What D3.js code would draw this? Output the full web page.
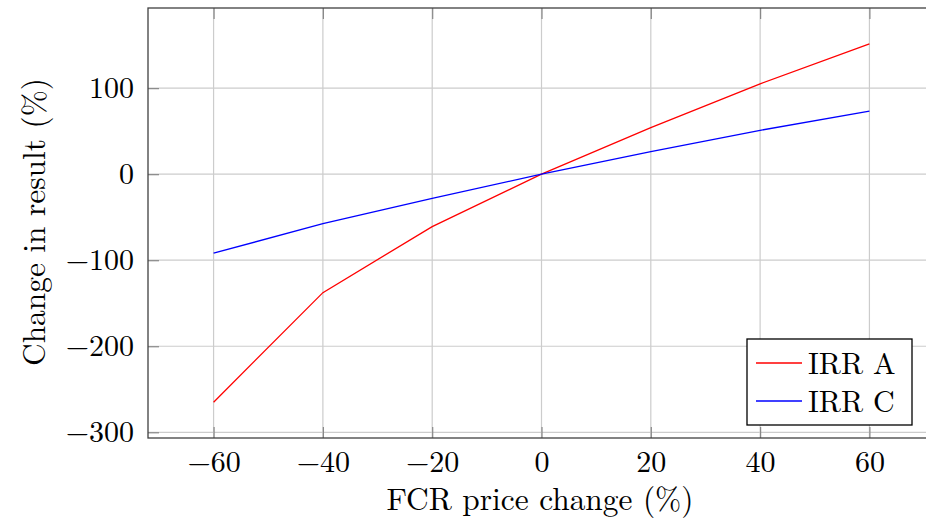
<!DOCTYPE html>
<html>
<head>
<meta charset="utf-8">
<script src="https://cdn.jsdelivr.net/npm/d3@7"></script>
<style>
  body { margin: 0; background: #fff; overflow: hidden; }
  text { font-family: "Latin Modern Roman", "Liberation Serif", "DejaVu Serif", serif; }
</style>
</head>
<body>
<div id="chart"></div>
<script>
// data
const priceChange = [-60, -40, -20, 0, 20, 40, 60];
const irrA = [-265, -137.7, -60.9, 0, 54.2, 105, 151.5];
const irrC = [-91.9, -57.4, -28, 0, 26.3, 51, 73.3];
const xTicks = [-60, -40, -20, 0, 20, 40, 60];
const yTicks = [-300, -200, -100, 0, 100];
const seriesNames = ["IRR A", "IRR C"];
const seriesColors = ["#ff0000", "#0000ff"];

const width = 926;
const height = 526;
const margin = { left: 148, top: 8 };
const plotW = 787;   // frame runs past the window edge like the reference
const plotH = 430;

const svg = d3.select("#chart")
    .append("svg")
    .attr("width", width)
    .attr("height", height);

// pgfplots-style 10% enlargement of limits
const allY = irrA.concat(irrC);
const yMin = d3.min(allY), yMax = d3.max(allY);
const yPad = (yMax - yMin) * 0.1;

const xScale = d3.scaleLinear().domain([-72, 72]).range([0, plotW]);
const yScale = d3.scaleLinear().domain([yMin - yPad, yMax + yPad]).range([plotH, 0]);

const g = svg.append("g")
    .attr("transform", `translate(${margin.left},${margin.top})`);

// grid lines
g.selectAll(".vgrid")
    .data(xTicks)
    .enter().append("line")
    .attr("x1", d => xScale(d)).attr("x2", d => xScale(d))
    .attr("y1", 0).attr("y2", plotH)
    .attr("stroke", "#cccccc").attr("stroke-width", 1.2);

g.selectAll(".hgrid")
    .data(yTicks)
    .enter().append("line")
    .attr("x1", 0).attr("x2", plotW)
    .attr("y1", d => yScale(d)).attr("y2", d => yScale(d))
    .attr("stroke", "#cccccc").attr("stroke-width", 1.2);

// axes with inward ticks
const tickFmt = d => d < 0 ? "\u2212" + Math.abs(d) : String(d);

const xAxis = g.append("g")
    .attr("transform", `translate(0,${plotH})`)
    .call(d3.axisBottom(xScale).tickValues(xTicks).tickSizeInner(-11).tickSizeOuter(0).tickPadding(17).tickFormat(tickFmt));
g.append("g")
    .call(d3.axisTop(xScale).tickValues(xTicks).tickSizeInner(-11).tickSizeOuter(0).tickFormat(""));
const yAxis = g.append("g")
    .call(d3.axisLeft(yScale).tickValues(yTicks).tickSizeInner(-11).tickSizeOuter(0).tickPadding(14).tickFormat(tickFmt));

svg.selectAll(".domain").remove();
svg.selectAll(".tick line").attr("stroke", "#888888").attr("stroke-width", 1.2);
svg.selectAll(".tick text").attr("font-size", "30px").attr("fill", "#000");
xAxis.selectAll(".tick text").attr("dy", "0.55em");

// frame
g.append("rect")
    .attr("width", plotW).attr("height", plotH)
    .attr("fill", "none").attr("stroke", "#404040").attr("stroke-width", 1.3);

// series lines
const line = d3.line()
    .x((d, i) => xScale(priceChange[i]))
    .y(d => yScale(d));

[irrA, irrC].forEach((vals, k) => {
    g.append("path")
        .datum(vals)
        .attr("d", line)
        .attr("fill", "none")
        .attr("stroke", seriesColors[k])
        .attr("stroke-width", 1.3);
});

// axis titles
svg.append("text")
    .attr("x", 540).attr("y", 510)
    .attr("text-anchor", "middle")
    .attr("font-size", "31.4px")
    .text("FCR price change (%)");

svg.append("text")
    .attr("transform", "translate(45,222) rotate(-90)")
    .attr("text-anchor", "middle")
    .attr("font-size", "31.4px")
    .text("Change in result (%)");

// legend
const legend = svg.append("g").attr("transform", "translate(747,339)");
legend.append("rect")
    .attr("width", 165).attr("height", 86)
    .attr("fill", "#fff").attr("stroke", "#000").attr("stroke-width", 1.3);

seriesNames.forEach((name, k) => {
    const yy = 24 + k * 38;
    legend.append("line")
        .attr("x1", 9).attr("x2", 55)
        .attr("y1", yy).attr("y2", yy)
        .attr("stroke", seriesColors[k]).attr("stroke-width", 1.3);
    legend.append("text")
        .attr("x", 61).attr("y", yy + 11)
        .attr("font-size", "30px")
        .text(name);
});
</script>
</body>
</html>
